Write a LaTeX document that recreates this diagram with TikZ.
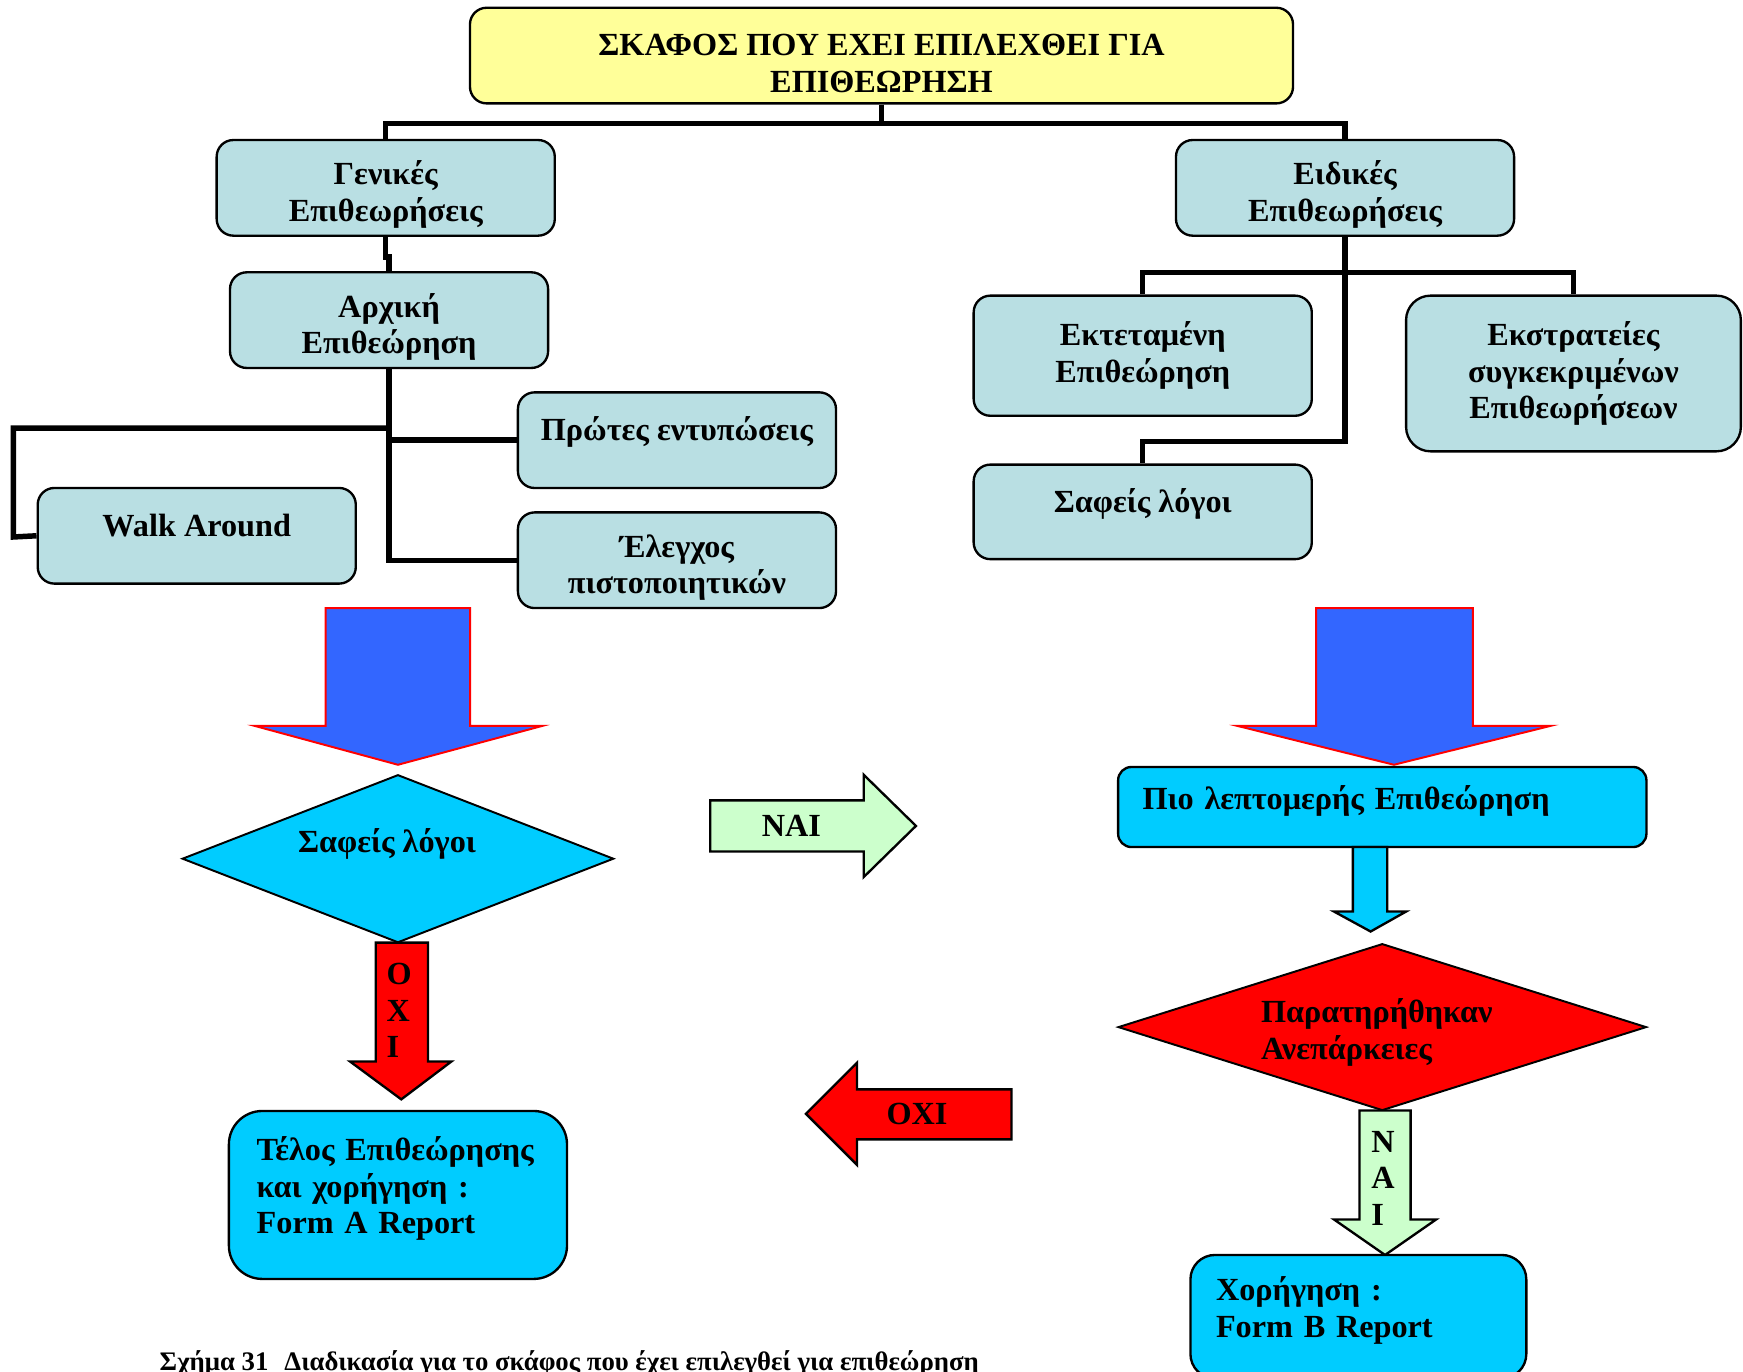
\documentclass[tikz,border=0pt]{standalone}
\usepackage{fontspec}
\setmainfont{Liberation Serif}
\usetikzlibrary{shapes.geometric}

\definecolor{titleyellow}{HTML}{FFFF99}
\definecolor{boxteal}{HTML}{B9DFE3}
\definecolor{boxcyan}{HTML}{00CCFF}
\definecolor{arrowblue}{HTML}{3366FF}
\definecolor{arrowgreen}{HTML}{CCFFCC}

\newcommand{\topstrut}{\rule{0pt}{9.6pt}}

\tikzset{
  tealbox/.style={draw, line width=0.6pt, fill=boxteal, rounded corners=0.15cm, align=center, inner sep=0pt},
  cyanbox/.style={draw, line width=0.6pt, fill=boxcyan, align=left, inner ysep=0pt,
    execute at end node={\rule[-5pt]{0pt}{5pt}}},
  decision/.style={diamond, draw, line width=0.5pt, inner sep=0pt, align=center},
  link/.style={line width=1.4pt},
  bigarrow/.style={fill=arrowblue, draw=red, line width=0.5pt},
  blockarrow/.style={draw, line width=0.6pt},
}

\begin{document}
\begin{tikzpicture}[x=0.01cm, y=-0.01cm, font=\bfseries\fontsize{8.25}{9.4}\selectfont]
    \useasboundingbox (0,0) rectangle (1568,1234);

    \node[tealbox, fill=titleyellow, minimum width=7.40cm, minimum height=0.86cm] (title) at (793,50)
      {\topstrut ΣΚΑΦΟΣ ΠΟΥ ΕΧΕΙ ΕΠΙΛΕΧΘΕΙ ΓΙΑ\\ΕΠΙΘΕΩΡΗΣΗ};

    \node[tealbox, minimum width=3.04cm, minimum height=0.86cm] (gen) at (347,169) {\topstrut Γενικές\\Επιθεωρήσεις};
    \node[tealbox, minimum width=3.04cm, minimum height=0.86cm] (eid) at (1210,169) {\topstrut Ειδικές\\Επιθεωρήσεις};
    \node[tealbox, minimum width=2.86cm, minimum height=0.86cm] (arx) at (350,288) {\topstrut Αρχική\\Επιθεώρηση};
    \node[tealbox, minimum width=2.86cm, minimum height=0.86cm] (prot) at (609,396) {\topstrut Πρώτες εντυπώσεις\\\mbox{}};
    \node[tealbox, minimum width=2.86cm, minimum height=0.86cm] (eleg) at (609,504) {\topstrut Έλεγχος\\πιστοποιητικών};
    \node[tealbox, minimum width=2.86cm, minimum height=0.86cm] (walk) at (177,482) {\topstrut Walk Around\\\mbox{}};
    \node[tealbox, minimum width=3.04cm, minimum height=1.08cm] (ekt) at (1028,320) {Εκτεταμένη\\Επιθεώρηση};
    \node[tealbox, rounded corners=0.22cm, minimum width=3.01cm, minimum height=1.40cm] (ekst) at (1415.5,336)
      {Εκστρατείες\\συγκεκριμένων\\Επιθεωρήσεων};
    \node[tealbox, minimum width=3.04cm, minimum height=0.85cm] (saf) at (1028,460.5) {\topstrut Σαφείς λόγοι\\\mbox{}};

    \draw[link] (title.south) -- ++(0,17) -| (gen.north);
    \draw[link] (title.south) -- ++(0,17) -| (eid.north);
    \draw[link] (gen.south) -- ++(0,18) -| (arx.north);
    \draw[link] (arx.south) |- (prot.west);
    \draw[link] (arx.south) |- (eleg.west);
    \draw[link] (arx.south) -- ++(0,53) -| ++(-338,98) -- (walk.west);
    \draw[link] (eid.south) -- ++(0,32) -| (ekt.north);
    \draw[link] (eid.south) -- ++(0,32) -| (ekst.north);
    \draw[link] (eid.south) -- ++(0,184) -| (saf.north);

    \draw[bigarrow] (293,547) -- (423,547) -- (423,653) -- (488,653) -- (358,688) -- (229,653) -- (293,653) -- cycle;
    \draw[bigarrow] (1184,547) -- (1325,547) -- (1325,653) -- (1395,653) -- (1254,688) -- (1113,653) -- (1184,653) -- cycle;

    \node[decision, fill=boxcyan, aspect=2.58, minimum width=3.88cm, minimum height=1.51cm] (dia1) at (358,772.5)
      {Σαφείς λόγοι\hspace{5.6pt}\mbox{}\\\mbox{}};
    \node[cyanbox, rounded corners=0.3cm, inner xsep=0.25cm, text width=2.54cm, minimum height=1.51cm] (formA) at (358,1075)
      {Τέλος Επιθεώρησης\\και χορήγηση :\\Form A Report};

    \draw[blockarrow, fill=red] (338,848) -- (385,848) -- (385,955) -- (406,955) -- (361,989) -- (315,955) -- (338,955) -- cycle;
    \node[anchor=west, align=left, inner sep=0pt] (oxiv) at (347,909) {Ο\\Χ\\Ι};

    \draw[blockarrow, fill=arrowgreen] (639,720) -- (777,720) -- (777,697) -- (824,743) -- (777,789) -- (777,766) -- (639,766) -- cycle;
    \node (nai) at (712,743) {ΝΑΙ};
    \draw[blockarrow, fill=red] (910,980) -- (771,980) -- (771,956) -- (725,1002) -- (771,1048) -- (771,1025) -- (910,1025) -- cycle;
    \node (oxi) at (825,1002) {ΟΧΙ};

    \node[cyanbox, rounded corners=0.12cm, inner xsep=0.22cm, text width=4.31cm, minimum height=0.72cm] (detail) at (1243.5,726)
      {Πιο λεπτομερής Επιθεώρηση};
    \draw[blockarrow, fill=boxcyan] (1217,762) -- (1248,762) -- (1248,820) -- (1265,820) -- (1233,838) -- (1200,820) -- (1217,820) -- cycle;
    \node[decision, fill=red, aspect=3.17, minimum width=4.75cm, minimum height=1.50cm, align=left] (dia2) at (1243.5,924)
      {\rule{0pt}{9pt}Παρατηρήθηκαν\hspace{2.8pt}\mbox{}\\Ανεπάρκειες};
    \draw[blockarrow, fill=arrowgreen] (1223,999) -- (1269,999) -- (1269,1097) -- (1292,1097) -- (1246,1129) -- (1200,1097) -- (1223,1097) -- cycle;
    \node[anchor=west, align=left, inner sep=0pt] (naiv) at (1233,1060) {Ν\\Α\\Ι};
    \node[cyanbox, rounded corners=0.22cm, inner xsep=0.23cm, text width=2.56cm, minimum height=1.11cm] (formB) at (1222,1184.5)
      {Χορήγηση :\\Form B Report};

    \node[anchor=base west, inner sep=0pt, font=\bfseries\fontsize{6.85}{8}\selectfont] (caption) at (143,1233)
      {Σχήμα 31\hspace{0.35em} Διαδικασία για το σκάφος που έχει επιλεγθεί για επιθεώρηση};
\end{tikzpicture}
\end{document}
